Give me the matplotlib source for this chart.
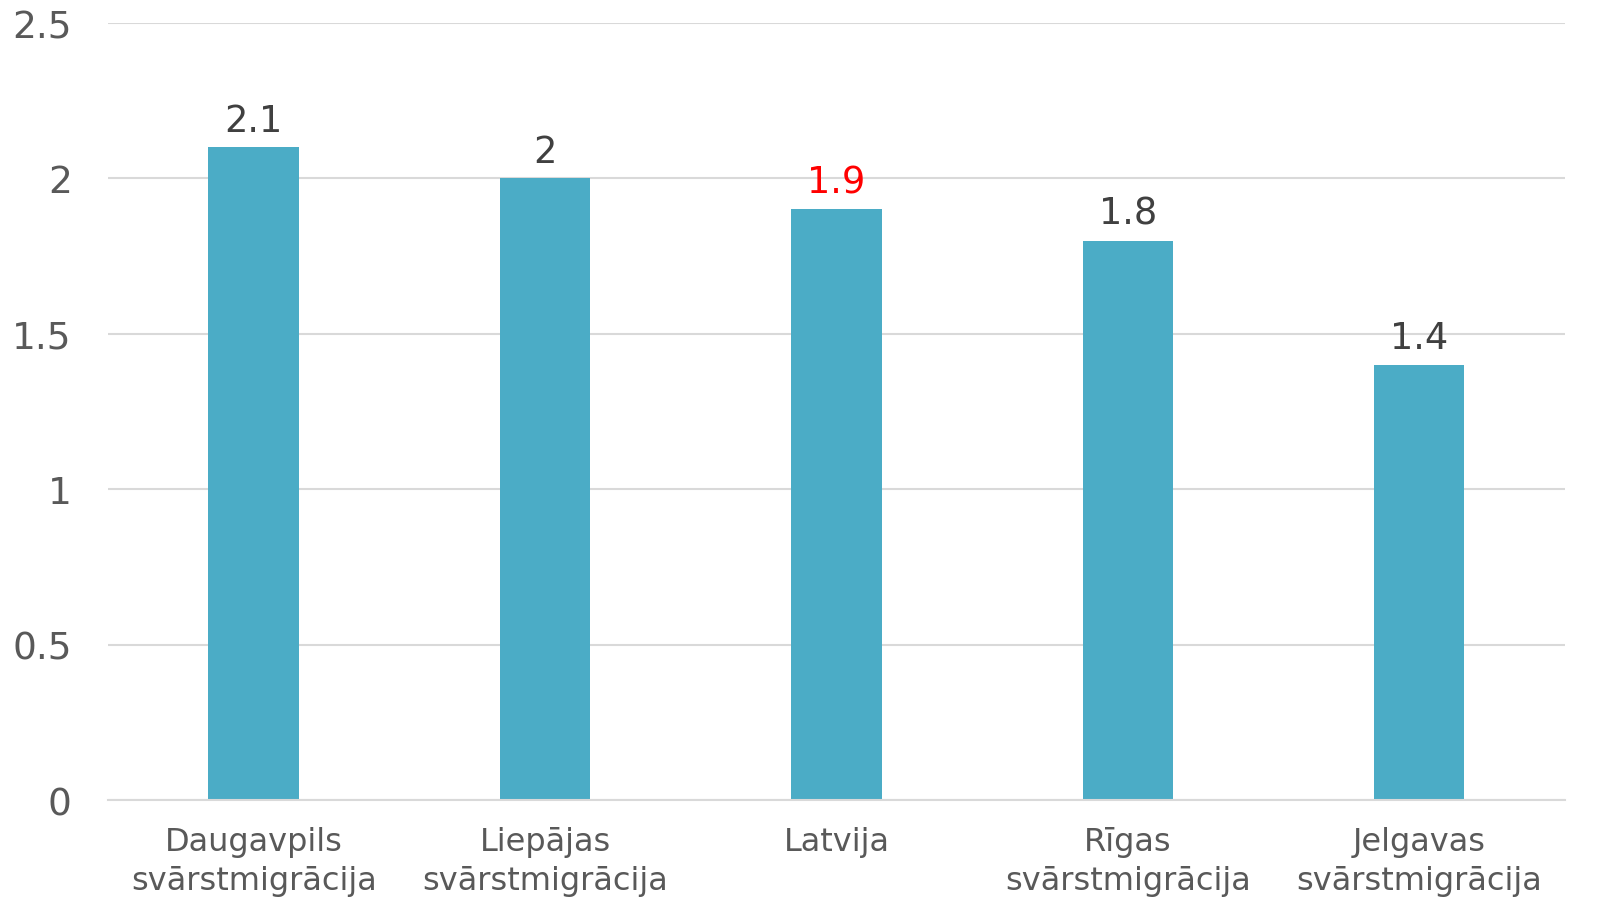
import matplotlib
matplotlib.use("Agg")
import matplotlib.pyplot as plt

categories = ["Daugavpils\nsvārstmigrācija", "Liepājas\nsvārstmigrācija", "Latvija",
              "Rīgas\nsvārstmigrācija", "Jelgavas\nsvārstmigrācija"]
values = [2.1, 2.0, 1.9, 1.8, 1.4]
value_labels = ["2.1", "2", "1.9", "1.8", "1.4"]
label_colors = ["#404040", "#404040", "#FF0000", "#404040", "#404040"]
yticks = [0, 0.5, 1, 1.5, 2, 2.5]
ytick_labels = ["0", "0.5", "1", "1.5", "2", "2.5"]

plt.rcParams['font.family'] = ['Verdana', 'DejaVu Sans']

fig = plt.figure(figsize=(16.04, 9.2), dpi=100)
ax = fig.add_axes([0.0673, 0.1293, 0.9084, 0.8446])

x = list(range(len(categories)))
bars = ax.bar(x, values, width=0.31, color="#4BACC6", zorder=3)

for xi, v, lab, c in zip(x, values, value_labels, label_colors):
    ax.annotate(lab, (xi, v), xytext=(0, 12), textcoords="offset points",
                ha="center", va="baseline", fontsize=26.5, color=c, zorder=4)

ax.set_xlim(-0.5, len(categories) - 0.5)
ax.set_ylim(0, 2.5)
ax.set_yticks(yticks)
ax.set_yticklabels(ytick_labels)
ax.set_xticks(x)
ax.set_xticklabels(categories, linespacing=1.3)

ax.yaxis.grid(True, color="#D9D9D9", linewidth=1.5, zorder=0)
ax.set_axisbelow(True)
for s in ["top", "right", "left"]:
    ax.spines[s].set_visible(False)
ax.spines["bottom"].set_color("#D9D9D9")
ax.spines["bottom"].set_linewidth(1.5)
ax.spines["bottom"].set_zorder(5)

ax.tick_params(axis="y", length=0, pad=26, labelsize=27, labelcolor="#595959")
ax.tick_params(axis="x", length=0, pad=19, labelsize=23, labelcolor="#595959")

fig.savefig("out.png", dpi=100)
